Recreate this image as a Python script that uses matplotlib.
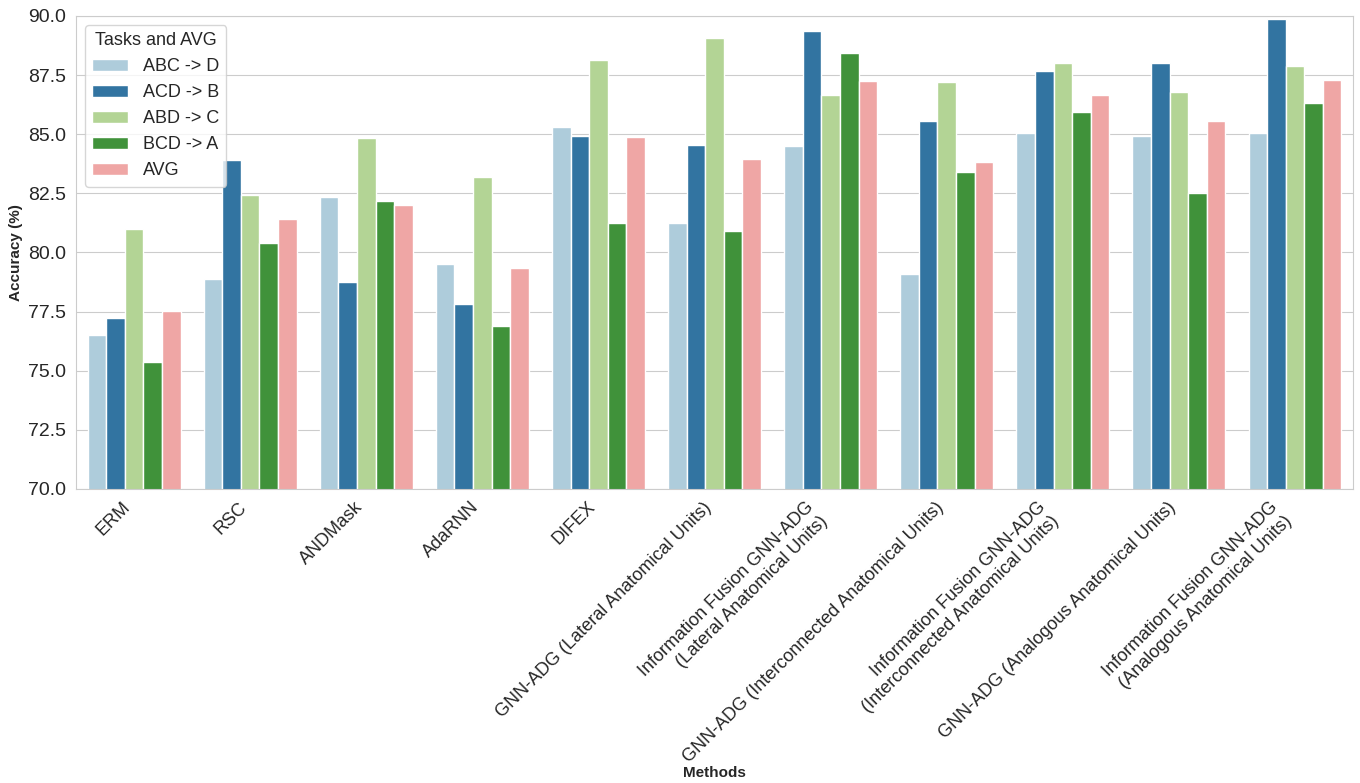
import matplotlib
matplotlib.use("Agg")
import matplotlib.pyplot as plt
import seaborn as sns
import pandas as pd

methods = [
    "ERM",
    "RSC",
    "ANDMask",
    "AdaRNN",
    "DIFEX",
    "GNN-ADG (Lateral Anatomical Units)",
    "Information Fusion GNN-ADG\n(Lateral Anatomical Units)",
    "GNN-ADG (Interconnected Anatomical Units)",
    "Information Fusion GNN-ADG\n(Interconnected Anatomical Units)",
    "GNN-ADG (Analogous Anatomical Units)",
    "Information Fusion GNN-ADG\n(Analogous Anatomical Units)",
]
tasks = ["ABC -> D", "ACD -> B", "ABD -> C", "BCD -> A", "AVG"]

abc_d = [76.51, 78.89, 82.35, 79.50, 85.29, 81.23, 84.52, 79.09, 85.07, 84.93, 85.05]
acd_b = [77.22, 83.91, 78.74, 77.82, 84.93, 84.53, 89.37, 85.57, 87.69, 88.03, 89.86]
abd_c = [81.01, 82.43, 84.84, 83.19, 88.13, 89.06, 86.66, 87.21, 88.01, 86.79, 87.89]
bcd_a = [75.37, 80.39, 82.19, 76.89, 81.25, 80.91, 88.42, 83.39, 85.94, 82.52, 86.32]
avg = [77.51, 81.42, 82.02, 79.36, 84.90, 83.94, 87.24, 83.83, 86.67, 85.57, 87.29]


def build_frame():
    series = [abc_d, acd_b, abd_c, bcd_a, avg]
    rows = []
    for task, values in zip(tasks, series):
        for method, value in zip(methods, values):
            rows.append({"Methods": method, "Task": task, "Accuracy (%)": value})
    return pd.DataFrame(rows)


sns.set_style("whitegrid")
plt.rcParams["font.family"] = ["Arial", "Liberation Sans", "DejaVu Sans"]

df = build_frame()

fig, ax = plt.subplots(figsize=(13.6, 7.83), dpi=100)
fig.subplots_adjust(left=0.0559, right=0.9949, top=0.9796, bottom=0.3755)

sns.barplot(data=df, x="Methods", y="Accuracy (%)", hue="Task",
            palette="Paired", ax=ax)

ax.set_ylim(70, 90)
ax.set_xlabel("Methods", fontsize=11, fontweight="bold", labelpad=0)
ax.set_ylabel("Accuracy (%)", fontsize=11, fontweight="bold")
ax.tick_params(axis="y", labelsize=14)
ax.tick_params(axis="x", pad=3.5)
plt.setp(ax.get_xticklabels(), rotation=45, ha="right", fontsize=13)

ax.legend(title="Tasks and AVG", loc="upper left", fontsize=13, title_fontsize=13)

fig.savefig("out.png", dpi=100)
